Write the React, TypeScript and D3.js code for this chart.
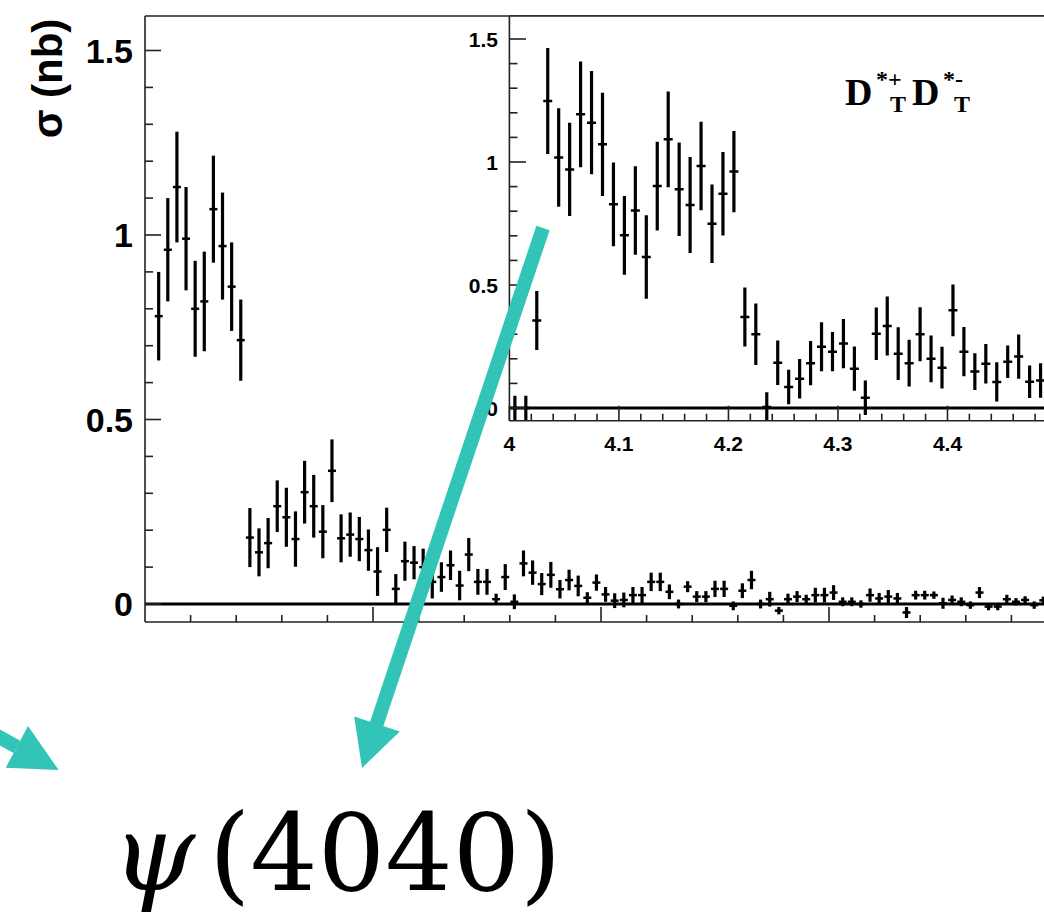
import React, { useRef, useEffect } from 'react';
import * as d3 from 'd3';

// main panel, 20 MeV bins
const mainEnergy = [
  4.03, 4.05, 4.07, 4.09, 4.11, 4.13, 4.15, 4.17, 4.19, 4.21,
  4.23, 4.25, 4.27, 4.29, 4.31, 4.33, 4.35, 4.37, 4.39, 4.41,
  4.43, 4.45, 4.47, 4.49, 4.51, 4.53, 4.55, 4.57, 4.59, 4.61,
  4.63, 4.65, 4.67, 4.69, 4.71, 4.73, 4.75, 4.77, 4.79, 4.81,
  4.83, 4.85, 4.87, 4.89, 4.91, 4.93, 4.95, 4.97, 4.99, 5.01,
  5.03, 5.05, 5.07, 5.09, 5.11, 5.13, 5.15, 5.17, 5.19, 5.21,
  5.23, 5.25, 5.27, 5.29, 5.31, 5.33, 5.35, 5.37, 5.39, 5.41,
  5.43, 5.45, 5.47, 5.49, 5.51, 5.53, 5.55, 5.57, 5.59, 5.61,
  5.63, 5.65, 5.67, 5.69, 5.71, 5.73, 5.75, 5.77, 5.79, 5.81,
  5.83, 5.85, 5.87, 5.89, 5.91, 5.93, 5.95, 5.97,
];
const mainSigma = [
  0.78, 0.96, 1.13, 0.99, 0.8, 0.82, 1.07, 0.97, 0.86, 0.715,
  0.18, 0.14, 0.165, 0.265, 0.235, 0.176, 0.303, 0.265, 0.196, 0.361,
  0.178, 0.188, 0.176, 0.146, 0.088, 0.201, 0.041, 0.116, 0.112, 0.1,
  0.06, 0.073, 0.105, 0.05, 0.134, 0.06, 0.06, 0.013, 0.073, 0.006,
  0.11, 0.085, 0.054, 0.079, 0.04, 0.065, 0.049, 0.017, 0.058, 0.026,
  0.009, 0.011, 0.024, 0.024, 0.06, 0.06, 0.033, 0.0, 0.047, 0.02,
  0.02, 0.041, 0.041, -0.005, 0.036, 0.065, 0.0, 0.013, -0.018, 0.013,
  0.02, 0.013, 0.024, 0.024, 0.031, 0.006, 0.006, 0.0, 0.024, 0.015,
  0.02, 0.015, -0.023, 0.024, 0.024, 0.024, 0.002, 0.011, 0.006, -0.003,
  0.031, -0.007, -0.007, 0.013, 0.006, 0.011, -0.003, 0.01,
];
const mainError = [
  0.12, 0.14, 0.15, 0.14, 0.13, 0.135, 0.145, 0.145, 0.12, 0.11,
  0.08, 0.065, 0.068, 0.07, 0.08, 0.075, 0.085, 0.085, 0.072, 0.085,
  0.065, 0.06, 0.06, 0.056, 0.066, 0.06, 0.04, 0.053, 0.045, 0.05,
  0.045, 0.04, 0.04, 0.04, 0.045, 0.035, 0.035, 0.015, 0.035, 0.02,
  0.035, 0.033, 0.03, 0.035, 0.025, 0.028, 0.028, 0.015, 0.022, 0.02,
  0.02, 0.02, 0.022, 0.022, 0.025, 0.025, 0.02, 0.012, 0.015, 0.015,
  0.015, 0.022, 0.022, 0.012, 0.02, 0.025, 0.012, 0.02, 0.01, 0.015,
  0.015, 0.012, 0.02, 0.02, 0.02, 0.012, 0.012, 0.01, 0.018, 0.015,
  0.018, 0.015, 0.015, 0.012, 0.012, 0.01, 0.015, 0.012, 0.012, 0.01,
  0.015, 0.01, 0.01, 0.012, 0.01, 0.01, 0.01, 0.01,
];

// inset D*T D*T, 10 MeV bins
const insetEnergy = [
  4.005, 4.015, 4.025, 4.035, 4.045, 4.055, 4.065, 4.075, 4.085, 4.095,
  4.105, 4.115, 4.125, 4.135, 4.145, 4.155, 4.165, 4.175, 4.185, 4.195,
  4.205, 4.215, 4.225, 4.235, 4.245, 4.255, 4.265, 4.275, 4.285, 4.295,
  4.305, 4.315, 4.325, 4.335, 4.345, 4.355, 4.365, 4.375, 4.385, 4.395,
  4.405, 4.415, 4.425, 4.435, 4.445, 4.455, 4.465, 4.475, 4.485,
];
const insetSigma = [
  0.0, 0.0, 0.356, 1.248, 1.018, 0.97, 1.194, 1.16, 1.072, 0.828,
  0.702, 0.803, 0.614, 0.902, 1.092, 0.889, 0.825, 0.984, 0.749, 0.871,
  0.961, 0.37, 0.3, 0.004, 0.184, 0.085, 0.119, 0.182, 0.249, 0.229,
  0.262, 0.16, 0.042, 0.302, 0.333, 0.221, 0.182, 0.3, 0.2, 0.164,
  0.397, 0.229, 0.148, 0.18, 0.106, 0.188, 0.209, 0.107, 0.112,
];
const insetError = [
  0.05, 0.05, 0.12, 0.215, 0.2, 0.19, 0.215, 0.21, 0.21, 0.17,
  0.16, 0.18, 0.17, 0.18, 0.195, 0.19, 0.195, 0.18, 0.16, 0.17,
  0.165, 0.12, 0.125, 0.06, 0.09, 0.07, 0.08, 0.09, 0.1, 0.08,
  0.1, 0.09, 0.07, 0.107, 0.12, 0.107, 0.095, 0.11, 0.095, 0.085,
  0.105, 0.1, 0.075, 0.08, 0.08, 0.066, 0.09, 0.066, 0.07,
];

const yMajor = [0, 0.5, 1, 1.5];
const yMinor = [0.1, 0.2, 0.3, 0.4, 0.6, 0.7, 0.8, 0.9, 1.1, 1.2, 1.3, 1.4];
const mainXMajor = [4.5, 5.0, 5.5];
const mainXMinor = [4.1, 4.2, 4.3, 4.4, 4.6, 4.7, 4.8, 4.9, 5.1, 5.2, 5.3, 5.4, 5.6, 5.7, 5.8, 5.9];
const insetXMajor = [4.0, 4.1, 4.2, 4.3, 4.4];
const insetXMinor = [
  4.02, 4.04, 4.06, 4.08, 4.12, 4.14, 4.16, 4.18, 4.22, 4.24, 4.26, 4.28,
  4.32, 4.34, 4.36, 4.38, 4.42, 4.44, 4.46, 4.48,
];

const TEAL = '#31c4b7';
const SANS = '"Liberation Sans", Arial, Helvetica, sans-serif';
const SERIF = '"Liberation Serif", "Times New Roman", serif';

const W = 1044;
const H = 913;

const App = () => {
  const svgRef = useRef(null);

  useEffect(() => {
    const svg = d3.select(svgRef.current);
    svg.selectAll('.plot').remove();

    const root = svg.insert('g', '.overlay').attr('class', 'plot');

    // ---- main panel
    const x = d3.scaleLinear().domain([4.0, 6.0]).range([145, 1057]);
    const y = d3.scaleLinear().domain([0, 1.5]).range([604, 50.5]);
    const frameTop = 16;
    const frameBottom = 622;

    svg.select('#clipMain rect')
      .attr('x', 145).attr('y', frameTop)
      .attr('width', 1057 - 145).attr('height', frameBottom - frameTop);

    const main = root.append('g');
    const pts = mainEnergy.map((e, i) => ({ e, v: mainSigma[i], err: mainError[i] }));

    main.append('line')
      .attr('x1', 145).attr('x2', 1057)
      .attr('y1', y(0)).attr('y2', y(0))
      .attr('stroke', '#000').attr('stroke-width', 3);

    const bars = main.append('g').attr('clip-path', 'url(#clipMain)');
    bars.selectAll('line.ev').data(pts).join('line')
      .attr('class', 'ev')
      .attr('x1', d => x(d.e)).attr('x2', d => x(d.e))
      .attr('y1', d => y(d.v - d.err)).attr('y2', d => y(d.v + d.err))
      .attr('stroke', '#000').attr('stroke-width', 3.2);
    bars.selectAll('line.eh').data(pts).join('line')
      .attr('class', 'eh')
      .attr('x1', d => x(d.e) - 4).attr('x2', d => x(d.e) + 4)
      .attr('y1', d => y(d.v)).attr('y2', d => y(d.v))
      .attr('stroke', '#000').attr('stroke-width', 2.5);

    // frame
    const frame = root.append('g').attr('stroke', '#222').attr('stroke-width', 1.6);
    frame.append('line').attr('x1', 145).attr('x2', 145).attr('y1', frameTop).attr('y2', frameBottom);
    frame.append('line').attr('x1', 145).attr('x2', 1057).attr('y1', frameTop).attr('y2', frameTop);
    frame.append('line').attr('x1', 145).attr('x2', 1057).attr('y1', frameBottom).attr('y2', frameBottom);

    // y ticks
    frame.selectAll('line.ymaj').data(yMajor).join('line')
      .attr('x1', 145).attr('x2', 161)
      .attr('y1', d => y(d)).attr('y2', d => y(d));
    frame.selectAll('line.ymin').data(yMinor).join('line')
      .attr('class', 'ymin')
      .attr('x1', 145).attr('x2', 153)
      .attr('y1', d => y(d)).attr('y2', d => y(d));
    // x ticks
    frame.selectAll('line.xmaj').data(mainXMajor).join('line')
      .attr('class', 'xmaj')
      .attr('x1', d => x(d)).attr('x2', d => x(d))
      .attr('y1', frameBottom).attr('y2', frameBottom - 15);
    frame.selectAll('line.xmin').data(mainXMinor).join('line')
      .attr('class', 'xmin')
      .attr('x1', d => x(d)).attr('x2', d => x(d))
      .attr('y1', frameBottom).attr('y2', frameBottom - 7);

    root.append('g').selectAll('text').data(yMajor).join('text')
      .attr('x', 133).attr('y', d => y(d) + 12)
      .attr('text-anchor', 'end')
      .attr('font-family', SANS).attr('font-weight', 'bold').attr('font-size', 34)
      .text(d => d3.format('')(d));

    // ---- inset panel
    const xi = d3.scaleLinear().domain([4.0, 4.5]).range([509.4, 1057]);
    const yi = d3.scaleLinear().domain([0, 1.5]).range([408, 39]);
    const inTop = 16;
    const inBottom = 420.7;

    svg.select('#clipInset rect')
      .attr('x', 509.4).attr('y', inTop)
      .attr('width', 1057 - 509.4).attr('height', inBottom - inTop);

    const inset = root.append('g');
    inset.append('rect')
      .attr('x', 509.4).attr('y', inTop)
      .attr('width', 1057 - 509.4).attr('height', inBottom - inTop)
      .attr('fill', '#fff');

    inset.append('line')
      .attr('x1', 509.4).attr('x2', 1057)
      .attr('y1', yi(0)).attr('y2', yi(0))
      .attr('stroke', '#000').attr('stroke-width', 3);

    const ipts = insetEnergy.map((e, i) => ({ e, v: insetSigma[i], err: insetError[i] }));
    const ibars = inset.append('g').attr('clip-path', 'url(#clipInset)');
    ibars.selectAll('line.ev').data(ipts).join('line')
      .attr('class', 'ev')
      .attr('x1', d => xi(d.e)).attr('x2', d => xi(d.e))
      .attr('y1', d => yi(d.v - d.err)).attr('y2', d => yi(d.v + d.err))
      .attr('stroke', '#000').attr('stroke-width', 3.2);
    ibars.selectAll('line.eh').data(ipts).join('line')
      .attr('class', 'eh')
      .attr('x1', d => xi(d.e) - 4.5).attr('x2', d => xi(d.e) + 4.5)
      .attr('y1', d => yi(d.v)).attr('y2', d => yi(d.v))
      .attr('stroke', '#000').attr('stroke-width', 2.5);

    const iframe = inset.append('g').attr('stroke', '#222').attr('stroke-width', 1.6);
    iframe.append('line').attr('x1', 509.4).attr('x2', 509.4).attr('y1', inTop).attr('y2', inBottom);
    iframe.append('line').attr('x1', 509.4).attr('x2', 1057).attr('y1', inBottom).attr('y2', inBottom);
    iframe.append('line').attr('x1', 509.4).attr('x2', 1057).attr('y1', inTop).attr('y2', inTop);

    iframe.selectAll('line.ymaj').data(yMajor).join('line')
      .attr('class', 'ymaj')
      .attr('x1', 509.4).attr('x2', 526)
      .attr('y1', d => yi(d)).attr('y2', d => yi(d));
    iframe.selectAll('line.ymin').data(yMinor).join('line')
      .attr('class', 'ymin')
      .attr('x1', 509.4).attr('x2', 517.5)
      .attr('y1', d => yi(d)).attr('y2', d => yi(d));
    iframe.selectAll('line.xmaj').data(insetXMajor).join('line')
      .attr('class', 'xmaj')
      .attr('x1', d => xi(d)).attr('x2', d => xi(d))
      .attr('y1', inBottom).attr('y2', inBottom - 15);
    iframe.selectAll('line.xmin').data(insetXMinor).join('line')
      .attr('class', 'xmin')
      .attr('x1', d => xi(d)).attr('x2', d => xi(d))
      .attr('y1', inBottom).attr('y2', inBottom - 7);

    const ilab = inset.append('g')
      .attr('font-family', SANS).attr('font-weight', 'bold').attr('font-size', 21);
    ilab.selectAll('text.yl').data(yMajor).join('text')
      .attr('class', 'yl')
      .attr('x', 498).attr('y', d => yi(d) + 7.5)
      .attr('text-anchor', 'end')
      .text(d => d3.format('')(d));
    ilab.selectAll('text.xl').data(insetXMajor).join('text')
      .attr('class', 'xl')
      .attr('x', d => xi(d)).attr('y', 450.5)
      .attr('text-anchor', 'middle')
      .text(d => d3.format('')(d));
  }, []);

  return (
    <svg
      ref={svgRef}
      width={W}
      height={H}
      viewBox={`0 0 ${W} ${H}`}
      style={{ position: 'absolute', left: 0, top: 0, background: '#fff' }}
    >
      <defs>
        <clipPath id="clipMain"><rect /></clipPath>
        <clipPath id="clipInset"><rect /></clipPath>
      </defs>
      <g className="overlay">
        <text
          transform="translate(62,78.5) rotate(-90)"
          textAnchor="middle"
          fontFamily={SANS}
          fontWeight="bold"
          fontSize={42}
        >
          σ (nb)
        </text>

        {/* legend of the inset */}
        <g fontFamily={SERIF} fontWeight="bold">
          <text x={845} y={105} fontSize={38}>D</text>
          <text x={876} y={87} fontSize={24}>*+</text>
          <text x={890} y={112} fontSize={24}>T</text>
          <text x={912} y={105} fontSize={38}>D</text>
          <text x={943} y={87} fontSize={24}>*-</text>
          <text x={954} y={112} fontSize={24}>T</text>
        </g>

        {/* annotation arrows */}
        <g fill={TEAL} stroke="none">
          <line x1={543} y1={228} x2={376.5} y2={724.4} stroke={TEAL} strokeWidth={14} />
          <polygon points="362,768 354.2,716.4 399.8,731.6" />
          <line x1={-60} y1={704} x2={16.9} y2={746.8} stroke={TEAL} strokeWidth={14} />
          <polygon points="58.6,770 5.7,767.7 28,726" />
        </g>

        <g fontFamily='"DejaVu Serif", serif' fontSize={106}>
          <text x={112} y={890} fontStyle="italic">ψ</text>
          <text x={209} y={890}>(4040)</text>
        </g>
      </g>
    </svg>
  );
};

export default App;
